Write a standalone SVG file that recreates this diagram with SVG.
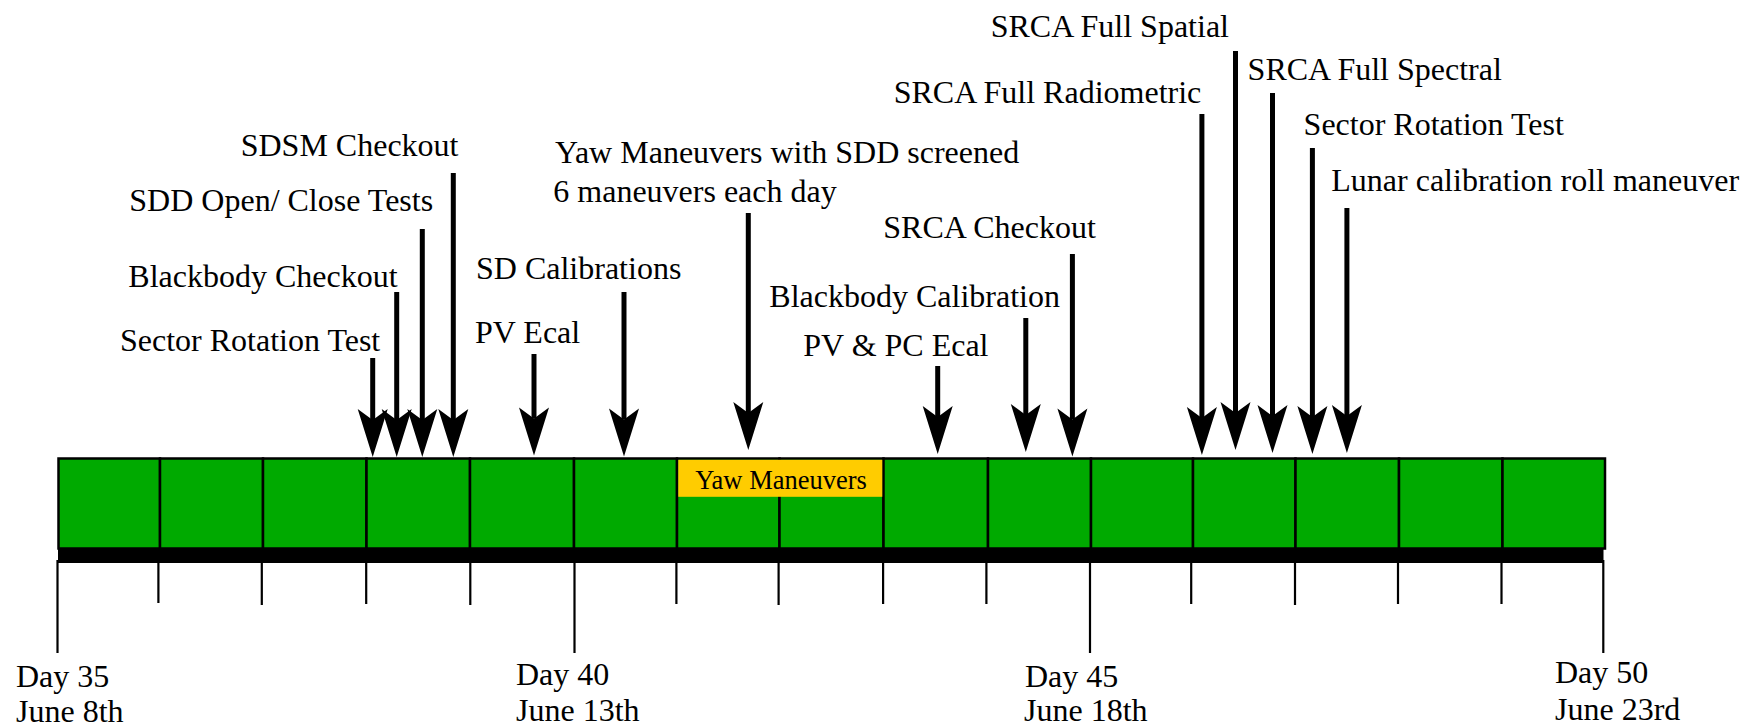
<svg xmlns="http://www.w3.org/2000/svg" width="1743" height="727" viewBox="0 0 1743 727">
<style>
text{font-family:"Liberation Serif","Times New Roman",serif;font-size:32px;fill:#000}
.day{fill:#00aa00;stroke:#000;stroke-width:2.5}
.yaw{fill:#ffcc00}
.yawt{font-size:26.5px;text-anchor:middle}
.tick{stroke:#000;stroke-width:2.2;fill:none}
.arr{stroke:#000;stroke-width:5;fill:none;marker-end:url(#ah)}
</style>
<defs>
<marker id="ah" markerUnits="userSpaceOnUse" markerWidth="60" markerHeight="40" viewBox="0 -20 60 40" refX="11" refY="0" orient="auto" overflow="visible">
<path d="M0,-15 L48,0 L0,15 L11,0 Z" fill="#000"/>
</marker>
</defs>
<rect width="1743" height="727" fill="#fff"/>
<g id="timeline">
<g id="day-35"><rect class="day" x="58.5" y="458.5" width="101.5" height="90"/></g>
<g id="day-36"><rect class="day" x="160" y="458.5" width="103" height="90"/></g>
<g id="day-37"><rect class="day" x="263" y="458.5" width="103.5" height="90"/></g>
<g id="day-38"><rect class="day" x="366.5" y="458.5" width="103.5" height="90"/></g>
<g id="day-39"><rect class="day" x="470" y="458.5" width="104" height="90"/></g>
<g id="day-40"><rect class="day" x="574" y="458.5" width="103" height="90"/></g>
<g id="day-41"><rect class="day" x="677" y="458.5" width="102.5" height="90"/></g>
<g id="day-42"><rect class="day" x="779.5" y="458.5" width="104" height="90"/></g>
<g id="day-43"><rect class="day" x="883.5" y="458.5" width="104.5" height="90"/></g>
<g id="day-44"><rect class="day" x="988" y="458.5" width="103" height="90"/></g>
<g id="day-45"><rect class="day" x="1091" y="458.5" width="102" height="90"/></g>
<g id="day-46"><rect class="day" x="1193" y="458.5" width="102.5" height="90"/></g>
<g id="day-47"><rect class="day" x="1295.5" y="458.5" width="103.5" height="90"/></g>
<g id="day-48"><rect class="day" x="1399" y="458.5" width="103.5" height="90"/></g>
<g id="day-49"><rect class="day" x="1502.5" y="458.5" width="102.5" height="90"/></g>
<g id="yaw-band">
<rect class="yaw" x="678.3" y="459.8" width="204" height="37"/>
<text class="yawt" x="781" y="489">Yaw Maneuvers</text>
</g>
<rect id="axis" x="58" y="548" width="1545.5" height="15" fill="#000"/>
<g id="ticks">
<path class="tick" d="M57.5,560V653 M574.5,560V653 M1090,560V653 M1603.3,560V653"/>
<path class="tick" d="M158.4,563V603 M261.8,563V605 M366.2,563V604 M470.3,563V605 M676.4,563V604 M778.6,563V605 M883.1,563V604 M986.4,563V604 M1191.2,563V604 M1295,563V605 M1398,563V604 M1501.5,563V604"/>
</g>
</g>
<g id="dates">
<text x="16" y="687">Day 35</text><text x="16" y="722">June 8th</text>
<text x="516" y="685">Day 40</text><text x="516" y="721">June 13th</text>
<text x="1025" y="687">Day 45</text><text x="1024" y="721">June 18th</text>
<text x="1555" y="683">Day 50</text><text x="1555" y="720">June 23rd</text>
</g>
<g id="labels">
<g id="ev-sector1"><text x="120" y="351">Sector Rotation Test</text></g>
<g id="ev-bbcheck"><text x="128.3" y="286.7">Blackbody Checkout</text></g>
<g id="ev-sdd"><text x="129.3" y="210.7">SDD Open/ Close Tests</text></g>
<g id="ev-sdsm"><text x="240.7" y="156">SDSM Checkout</text></g>
<g id="ev-pvecal"><text x="475" y="342.7">PV Ecal</text></g>
<g id="ev-sdcal"><text x="476" y="279.3">SD Calibrations</text></g>
<g id="ev-yaw"><text x="555" y="163.3">Yaw Maneuvers with SDD screened</text><text x="553.3" y="201.7">6 maneuvers each day</text></g>
<g id="ev-bbcal"><text x="769.3" y="307">Blackbody Calibration</text></g>
<g id="ev-pvpc"><text x="803.3" y="356">PV &amp; PC Ecal</text></g>
<g id="ev-srcacheck"><text x="883.3" y="238.3">SRCA Checkout</text></g>
<g id="ev-radiometric"><text x="893.7" y="102.7">SRCA Full Radiometric</text></g>
<g id="ev-spatial"><text x="990.7" y="36.7">SRCA Full Spatial</text></g>
<g id="ev-spectral"><text x="1247.6" y="80">SRCA Full Spectral</text></g>
<g id="ev-sector2"><text x="1303.6" y="135">Sector Rotation Test</text></g>
<g id="ev-lunar"><text x="1331.3" y="190.7">Lunar calibration roll maneuver</text></g>
</g>
<g id="connectors">
<line class="arr" x1="372.7" y1="358" x2="372.7" y2="420"/>
<line class="arr" x1="396.7" y1="292" x2="396.7" y2="420"/>
<line class="arr" x1="422.3" y1="229" x2="422.3" y2="420"/>
<line class="arr" x1="453.3" y1="173" x2="453.3" y2="420"/>
<line class="arr" x1="534" y1="354" x2="534" y2="418.5"/>
<line class="arr" x1="624" y1="292" x2="624" y2="419.5"/>
<line class="arr" x1="748.3" y1="213" x2="748.3" y2="413"/>
<line class="arr" x1="937.7" y1="366" x2="937.7" y2="417"/>
<line class="arr" x1="1025.8" y1="318" x2="1025.8" y2="415"/>
<line class="arr" x1="1072.4" y1="254" x2="1072.4" y2="419.5"/>
<line class="arr" x1="1201.9" y1="114" x2="1201.9" y2="418"/>
<line class="arr" x1="1235.5" y1="51" x2="1235.5" y2="413"/>
<line class="arr" x1="1272.5" y1="93" x2="1272.5" y2="416"/>
<line class="arr" x1="1312.4" y1="148" x2="1312.4" y2="417"/>
<line class="arr" x1="1346.9" y1="208" x2="1346.9" y2="416"/>
</g>
</svg>
